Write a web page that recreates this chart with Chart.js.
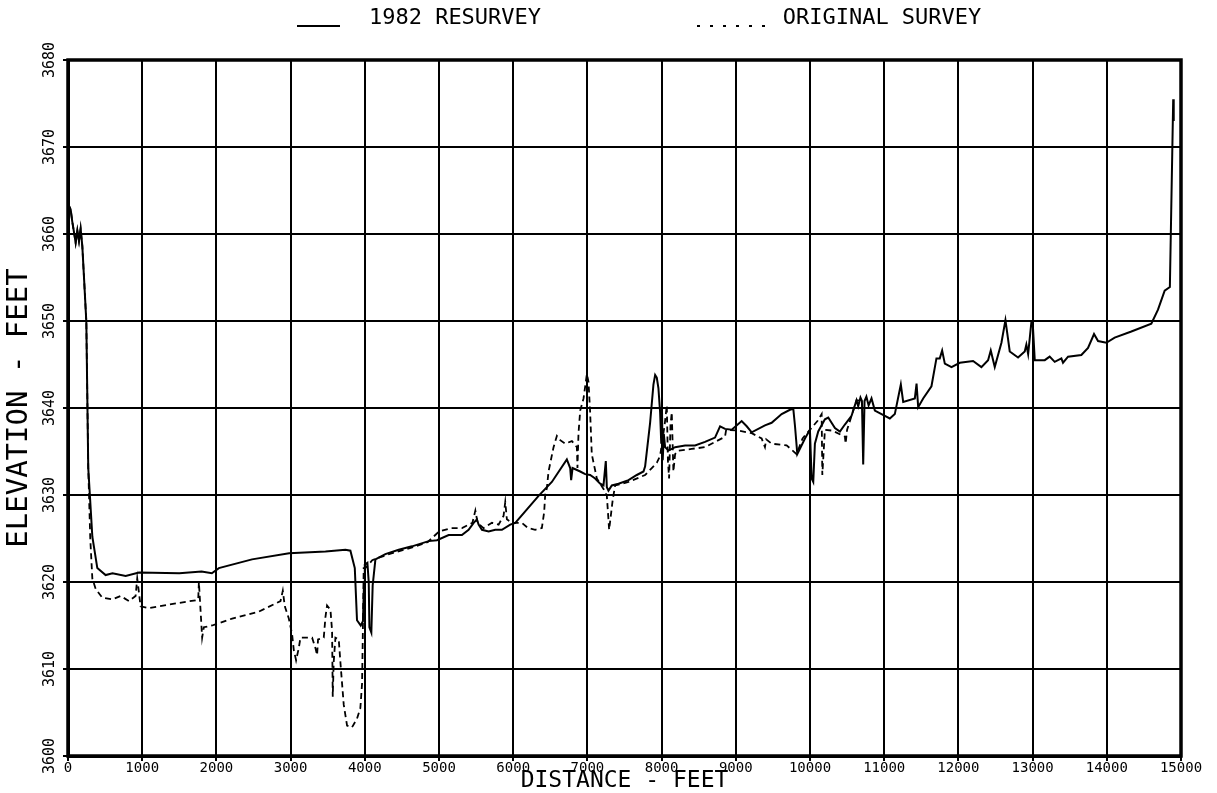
<!DOCTYPE html>
<html>
<head>
<meta charset="utf-8">
<script src="https://cdn.jsdelivr.net/npm/chart.js@4.4.0/dist/chart.umd.min.js"></script>
<style>
  html, body { margin: 0; padding: 0; background: #fff; }
</style>
</head>
<body>
<canvas id="myChart" width="1217" height="793"></canvas>
<script>
// Channel profile: 1982 resurvey vs original survey //

const FONT = "'DejaVu Sans Mono', 'Liberation Mono', monospace";

const resurveyX = [0, 36, 58, 81, 103, 126, 148, 170, 193, 215, 247, 273, 328, 395, 507, 600, 777, 956,
  1500, 1800, 1939, 2033, 2480, 2980, 3470, 3740, 3806, 3865, 3895, 3945, 3975, 3990, 4000, 4035, 4053,
  4062, 4088, 4106, 4143, 4277, 4457, 4636, 4861, 4973, 5130, 5309, 5399, 5467, 5511, 5534, 5579, 5669,
  5758, 5848, 5960, 6028, 6342, 6521, 6723, 6768, 6781, 6800, 6903, 6970, 7037, 7104, 7172, 7217, 7248,
  7262, 7284, 7329, 7419, 7554, 7666, 7756, 7778, 7845, 7890, 7913, 7935, 7957, 7980, 7995, 8005, 8015,
  8030, 8047, 8093, 8182, 8316, 8451, 8585, 8720, 8788, 8855, 8945, 9079, 9147, 9214, 9393, 9483, 9618,
  9730, 9775, 9798, 9829, 9864, 9932, 9999, 10022, 10044, 10066, 10111, 10201, 10246, 10336, 10403, 10470,
  10560, 10627, 10650, 10680, 10700, 10717, 10735, 10760, 10790, 10829, 10874, 10964, 11076, 11143, 11224,
  11256, 11413, 11436, 11458, 11525, 11637, 11704, 11749, 11781, 11817, 11907, 12019, 12198, 12310, 12400,
  12436, 12490, 12580, 12634, 12660, 12692, 12804, 12894, 12916, 12940, 12984, 13000, 13029, 13164, 13230,
  13298, 13388, 13410, 13478, 13657, 13747, 13828, 13882, 13994, 14106, 14331, 14600, 14690, 14780, 14850,
  14895, 14902];
const resurveyY = [3663.5, 3662.8, 3661.4, 3660.2, 3659.0, 3660.4, 3659.2, 3660.6, 3658.6, 3655.1, 3649.9,
  3633.1, 3625.2, 3621.6, 3620.8, 3621.0, 3620.7, 3621.1, 3621.0, 3621.2, 3621.0, 3621.6, 3622.6, 3623.3,
  3623.5, 3623.7, 3623.6, 3621.6, 3615.6, 3615.0, 3615.5, 3620.0, 3622.0, 3622.2, 3620.0, 3614.8, 3614.2,
  3619.6, 3622.6, 3623.2, 3623.7, 3624.1, 3624.7, 3624.8, 3625.4, 3625.4, 3626.0, 3626.8, 3627.2, 3626.6,
  3626.0, 3625.8, 3626.0, 3626.0, 3626.6, 3626.8, 3629.9, 3631.5, 3634.1, 3633.1, 3631.7, 3633.1, 3632.7,
  3632.4, 3632.3, 3631.9, 3631.3, 3631.1, 3633.9, 3630.9, 3630.5, 3631.1, 3631.3, 3631.7, 3632.3, 3632.7,
  3633.3, 3638.3, 3642.7, 3643.8, 3643.5, 3642.3, 3639.5, 3636.0, 3640.0, 3634.0, 3637.0, 3635.5, 3635.1,
  3635.5, 3635.7, 3635.7, 3636.1, 3636.6, 3637.9, 3637.6, 3637.5, 3638.5, 3637.9, 3637.2, 3638.0, 3638.3,
  3639.3, 3639.8, 3639.9, 3637.9, 3634.7, 3635.3, 3636.5, 3637.5, 3631.9, 3631.5, 3635.9, 3637.3, 3638.7,
  3638.9, 3637.7, 3637.3, 3638.1, 3639.1, 3640.9, 3640.2, 3641.2, 3640.8, 3633.5, 3640.8, 3641.3, 3640.3,
  3641.1, 3639.7, 3639.3, 3638.8, 3639.3, 3642.7, 3640.7, 3641.1, 3642.8, 3640.1, 3641.1, 3642.5, 3645.7,
  3645.7, 3646.6, 3645.1, 3644.7, 3645.2, 3645.4, 3644.7, 3645.5, 3646.6, 3644.7, 3647.5, 3650.1, 3648.5,
  3646.5, 3645.8, 3646.5, 3647.3, 3646.2, 3649.9, 3650.0, 3645.5, 3645.5, 3645.9, 3645.3, 3645.7, 3645.2,
  3645.9, 3646.1, 3646.9, 3648.5, 3647.7, 3647.5, 3648.1, 3648.8, 3649.7, 3651.3, 3653.5, 3653.9, 3675.5,
  3673.0];

const originalX = [0, 36, 58, 81, 103, 126, 148, 170, 193, 215, 247, 273, 300, 328, 373, 462, 597, 709, 821,
  911, 933, 956, 978, 1090, 1360, 1719, 1755, 1764, 1786, 1808, 1831, 1943, 2212, 2572, 2864, 2895, 2922,
  2976, 3020, 3043, 3074, 3110, 3133, 3290, 3335, 3357, 3370, 3447, 3470, 3491, 3537, 3559, 3568, 3581,
  3604, 3649, 3671, 3716, 3761, 3828, 3895, 3940, 3963, 3972, 3985, 4008, 4050, 4100, 4188, 4400, 4650,
  4850, 4950, 5000, 5170, 5310, 5450, 5490, 5520, 5600, 5714, 5803, 5870, 5893, 5915, 5982, 6117, 6200,
  6297, 6386, 6417, 6431, 6454, 6476, 6544, 6589, 6634, 6701, 6791, 6858, 6866, 6880, 6903, 6948, 6993,
  7015, 7037, 7059, 7127, 7217, 7262, 7293, 7342, 7374, 7554, 7778, 7868, 7935, 7980, 8040, 8070, 8085,
  8101, 8120, 8137, 8159, 8182, 8226, 8406, 8585, 8720, 8855, 8870, 9035, 9214, 9348, 9393, 9410, 9483,
  9685, 9819, 9900, 10000, 10100, 10157, 10166, 10201, 10300, 10470, 10480, 10500, 10560, 10627, 10700];
const originalY = [3663.5, 3662.8, 3661.4, 3660.2, 3659.0, 3660.4, 3659.2, 3660.6, 3658.6, 3655.1, 3649.9,
  3633.1, 3625.0, 3620.4, 3619.2, 3618.2, 3618.0, 3618.4, 3617.8, 3618.4, 3620.4, 3618.8, 3617.2, 3617.0,
  3617.4, 3617.9, 3618.0, 3620.0, 3616.8, 3613.6, 3614.8, 3615.0, 3615.8, 3616.6, 3617.8, 3619.0, 3617.2,
  3615.8, 3614.0, 3612.2, 3611.0, 3612.4, 3613.6, 3613.6, 3612.4, 3611.6, 3613.4, 3613.6, 3616.0, 3617.3,
  3616.8, 3614.4, 3606.8, 3610.8, 3613.6, 3613.4, 3610.8, 3605.9, 3603.5, 3603.3, 3604.3, 3605.5, 3608.3,
  3613.2, 3621.6, 3621.6, 3622.0, 3622.5, 3622.8, 3623.4, 3624.0, 3624.6, 3625.4, 3625.8, 3626.2, 3626.2,
  3626.8, 3628.2, 3626.8, 3626.2, 3626.8, 3626.6, 3627.6, 3629.2, 3627.2, 3626.8, 3626.8, 3626.2, 3626.0,
  3626.2, 3628.0, 3630.0, 3630.8, 3632.7, 3635.5, 3636.8, 3636.3, 3635.9, 3636.2, 3635.5, 3633.1, 3637.1,
  3639.7, 3641.1, 3643.9, 3643.0, 3639.5, 3634.7, 3631.9, 3630.7, 3629.9, 3626.0, 3629.5, 3631.1, 3631.5,
  3632.3, 3633.1, 3633.7, 3634.5, 3638.0, 3640.3, 3634.0, 3631.9, 3638.0, 3639.5, 3632.7, 3634.7, 3635.1,
  3635.3, 3635.5, 3636.1, 3636.7, 3637.5, 3637.4, 3637.1, 3636.5, 3635.5, 3636.4, 3635.9, 3635.7, 3634.7,
  3636.5, 3637.5, 3638.5, 3639.3, 3632.3, 3637.5, 3637.4, 3636.7, 3635.9, 3637.5, 3639.1, 3640.9, 3640.8];

const xTicks = { min: 0, max: 15000, step: 1000 };
const yTicks = { min: 3600, max: 3680, step: 10 };

function toPoints(xs, ys) {
  return xs.map((x, i) => ({ x: x, y: ys[i] }));
}

// box around the whole plot area
const frame = {
  id: 'frame',
  afterDatasetsDraw(chart) {
    const a = chart.chartArea, c = chart.ctx;
    c.save();
    c.strokeStyle = '#000';
    c.lineWidth = 3.5;
    c.strokeRect(a.left, a.top, a.right - a.left, a.bottom - a.top);
    c.restore();
  }
};

// y tick labels are written sideways, like the plotter did
const sideLabels = {
  id: 'sideLabels',
  afterDraw(chart) {
    const s = chart.scales.y, c = chart.ctx;
    c.save();
    c.fillStyle = '#000';
    c.font = '15px ' + FONT;
    c.textAlign = 'center';
    c.textBaseline = 'middle';
    s.ticks.forEach(t => {
      const py = s.getPixelForValue(t.value);
      c.save();
      c.translate(50, py);
      c.rotate(-Math.PI / 2);
      c.fillText(String(t.value), 0, 0);
      c.restore();
    });
    c.restore();
  }
};

// plotter style key across the top
const keyLine = {
  id: 'keyLine',
  afterDraw(chart) {
    const c = chart.ctx;
    const ds = chart.data.datasets;
    const slots = [
      { x0: 297, x1: 340, tx: 455, dash: [] },
      { x0: 697, x1: 775, tx: 882, dash: [3, 10] }
    ];
    c.save();
    c.fillStyle = '#000';
    c.strokeStyle = '#000';
    c.font = '22px ' + FONT;
    c.textAlign = 'center';
    c.textBaseline = 'middle';
    slots.forEach((s, i) => {
      c.lineWidth = 2;
      c.setLineDash(s.dash);
      c.beginPath();
      c.moveTo(s.x0, 26);
      c.lineTo(s.x1, 26);
      c.stroke();
      c.fillText(ds[i].label, s.tx, 18);
    });
    c.restore();
  }
};

var chart = document.getElementById("myChart");
var myChart = new Chart(chart, {
  type: 'line',
  data: {
    datasets: [{
      label: '1982 RESURVEY',
      data: toPoints(resurveyX, resurveyY),
      borderColor: '#000',
      borderWidth: 2,
      pointRadius: 0,
      fill: false
    }, {
      label: 'ORIGINAL SURVEY',
      data: toPoints(originalX, originalY),
      borderColor: '#000',
      borderWidth: 1.8,
      borderDash: [6, 4],
      pointRadius: 0,
      fill: false
    }]
  },
  options: {
    responsive: false,
    animation: false,
    layout: { padding: { top: 60, right: 36, bottom: 0, left: 0 } },
    plugins: {
      tooltip: { enabled: false },
      legend: { display: false }
    },
    scales: {
      x: {
        type: 'linear',
        min: xTicks.min,
        max: xTicks.max,
        ticks: {
          stepSize: xTicks.step, color: '#000', font: { family: FONT, size: 14 },
          padding: -1, maxRotation: 0, autoSkip: false,
          callback: v => String(v)
        },
        grid: { color: '#000', lineWidth: 2, tickLength: 5, tickColor: '#000', tickWidth: 2 },
        border: { color: '#000', width: 3 },
        title: { display: true, text: 'DISTANCE - FEET', color: '#000', font: { family: FONT, size: 23 }, padding: { top: 0, bottom: -2 } },
        afterFit(s) { s.height = 37; }
      },
      y: {
        min: yTicks.min,
        max: yTicks.max,
        ticks: { stepSize: yTicks.step, display: false },
        grid: { color: '#000', lineWidth: 2, tickLength: 5, tickColor: '#000', tickWidth: 2 },
        border: { color: '#000', width: 3 },
        title: { display: true, text: 'ELEVATION - FEET', color: '#000', font: { family: FONT, size: 29 }, padding: { top: 2, bottom: 0 } },
        afterFit(s) { s.width = 68; }
      }
    }
  },
  plugins: [frame, sideLabels, keyLine]
});
</script>
</body>
</html>
